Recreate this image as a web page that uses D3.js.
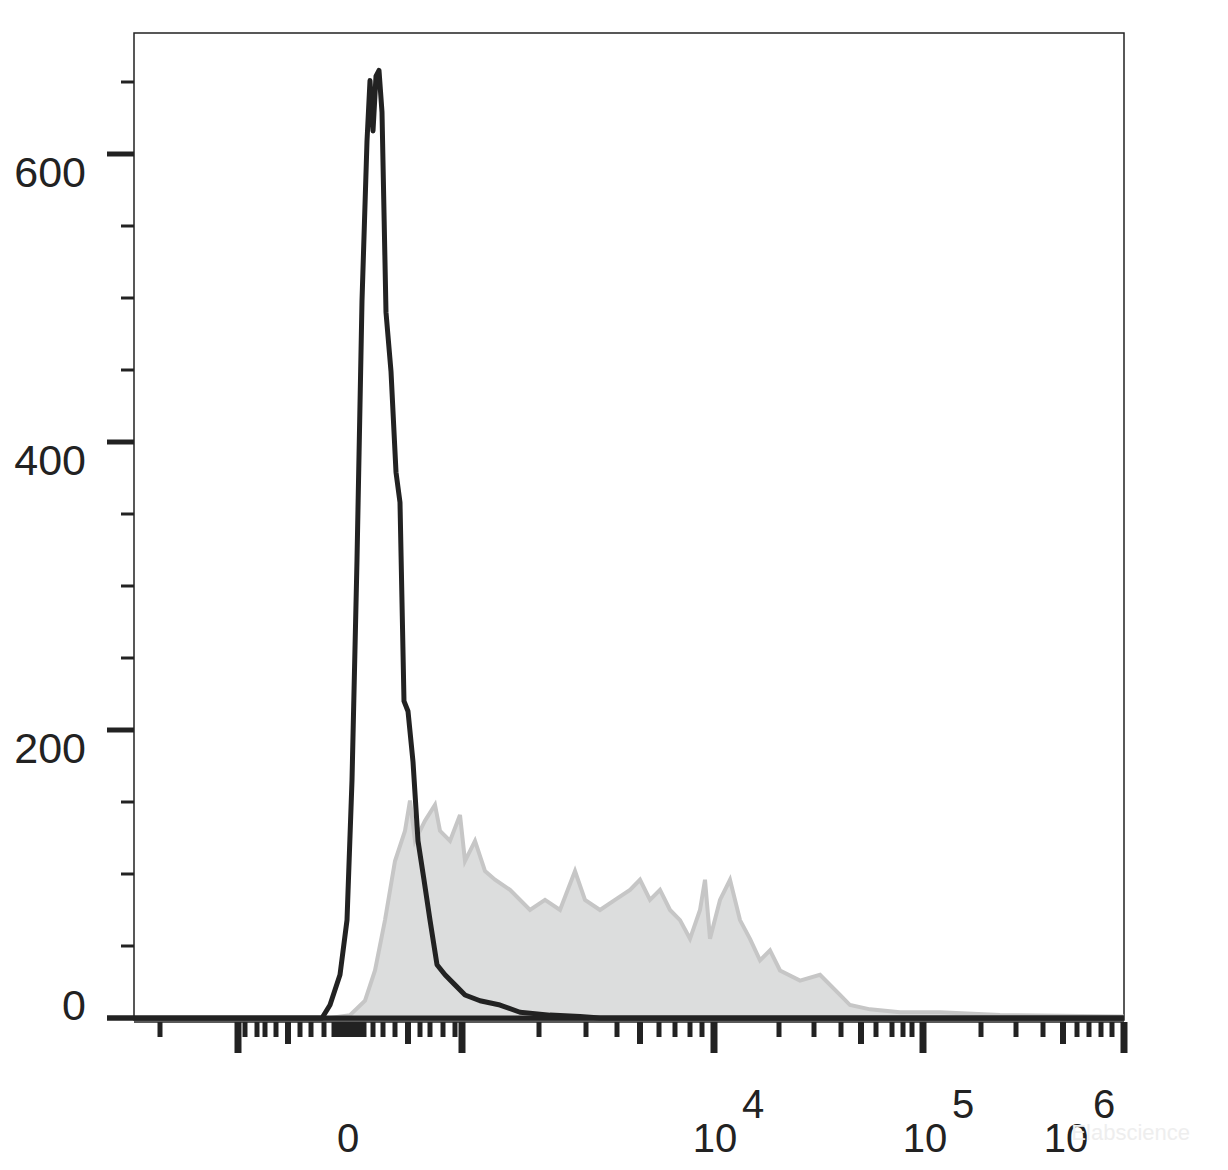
<!DOCTYPE html><html><head><meta charset="utf-8"><script src="https://cdn.jsdelivr.net/npm/d3@7"></script>
<style>body{margin:0;background:#fff}</style></head><body><svg id="c" width="1228" height="1170"></svg>
<script>
const blackX=[0,188,196,206,213,218,223,228,233,236,239,242,245,248,252,257,262,266,270,274,279,284,290,296,303,311,321,331,346,366,386,416,446,466,990];
const blackY=[0,0,9,30,68,165,318,498,609,651,616,654,658,629,490,449,379,358,220,213,178,123,96,68,37,30,23,16,12,9,4,2,1,0,0];
const grayX=[0,196,216,231,241,251,261,271,276,281,291,301,306,316,326,331,341,351,361,376,396,411,426,441,451,466,481,496,506,516,526,536,546,556,566,571,576,586,596,606,616,626,636,646,666,686,706,716,736,766,806,866,990];
const grayY=[0,0,2,12,33,68,109,130,151,123,137,148,130,123,141,109,123,102,96,89,75,82,75,102,82,75,82,89,96,82,89,75,68,55,75,96,55,82,96,68,55,40,47,33,26,30,16,9,6,4,4,2,1];
const yMajor=[0,200,400,600], yMinor=[50,100,150,250,300,350,450,500,550,650];
const xMajor=[104,328,580,789,990], xMedium=[154,274,506,727,929];
const xMinor=[26,111,123,131,142,166,177,190,200,203,206,209,212,215,218,221,224,227,230,239,249,261,286,296,309,321,405,452,483,525,541,556,568,645,680,707,742,758,769,778,847,882,909,943,955,967,978];
const xLabels=[{c:214,b:"0",e:""},{c:581,b:"10",e:"4"},{c:791,b:"10",e:"5"},{c:932,b:"10",e:"6"}];
const svg=d3.select("#c");
const L=134,R=1124,T=33,B=1020;
const F="Liberation Sans,Arial";
const x=d3.scaleLinear().domain([0,990]).range([L,R]);
const y=d3.scaleLinear().domain([0,200]).range([1018,730]);
svg.append("rect").attr("x",L).attr("y",T).attr("width",R-L).attr("height",B-T).attr("fill","none").attr("stroke","#222").attr("stroke-width",1.5);
const g=grayX.map((v,i)=>[v,grayY[i]]), k=blackX.map((v,i)=>[v,blackY[i]]);
svg.append("path").attr("d",d3.area().x(d=>x(d[0])).y0(y(0)).y1(d=>y(d[1]))(g)).attr("fill","#dcdddd");
svg.append("path").attr("d",d3.line().x(d=>x(d[0])).y(d=>y(d[1]))(g)).attr("fill","none").attr("stroke","#c6c6c6").attr("stroke-width",4);
svg.append("path").attr("d",d3.line().x(d=>x(d[0])).y(d=>y(d[1]))(k)).attr("fill","none").attr("stroke","#222").attr("stroke-width",5).attr("stroke-linejoin","round");
svg.append("line").attr("x1",107).attr("x2",R).attr("y1",y(0)).attr("y2",y(0)).attr("stroke","#222").attr("stroke-width",5);
yMajor.forEach(v=>svg.append("line").attr("x1",107).attr("x2",L).attr("y1",y(v)).attr("y2",y(v)).attr("stroke","#222").attr("stroke-width",5));
yMinor.forEach(v=>svg.append("line").attr("x1",121).attr("x2",L).attr("y1",y(v)).attr("y2",y(v)).attr("stroke","#222").attr("stroke-width",3));
yMajor.forEach(v=>svg.append("text").attr("x",86).attr("y",Math.min(y(v)+33,1020)).attr("text-anchor","end").attr("font-family",F).attr("font-size",43).attr("fill","#222").text(v));
svg.append("line").attr("x1",L).attr("x2",R).attr("y1",1022).attr("y2",1022).attr("stroke","#222").attr("stroke-width",1.5);
const tk=(arr,len,w)=>arr.forEach(v=>svg.append("line").attr("x1",x(v)).attr("x2",x(v)).attr("y1",1022).attr("y2",1022+len).attr("stroke","#222").attr("stroke-width",w));
tk(xMinor,15,5);tk(xMedium,22,6);tk(xMajor,31,7);
xLabels.forEach(d=>{svg.append("text").attr("x",x(d.c)).attr("y",1152).attr("text-anchor","middle").attr("font-family",F).attr("font-size",40).attr("fill","#222").text(d.b);
 if(d.e)svg.append("text").attr("x",x(d.c)+27).attr("y",1118).attr("font-family",F).attr("font-size",40).attr("fill","#222").text(d.e);});
svg.append("text").attr("x",1190).attr("y",1140).attr("text-anchor","end").attr("font-family",F).attr("font-size",22).attr("fill","#eeeeee").text("Elabscience");
</script></body></html>
